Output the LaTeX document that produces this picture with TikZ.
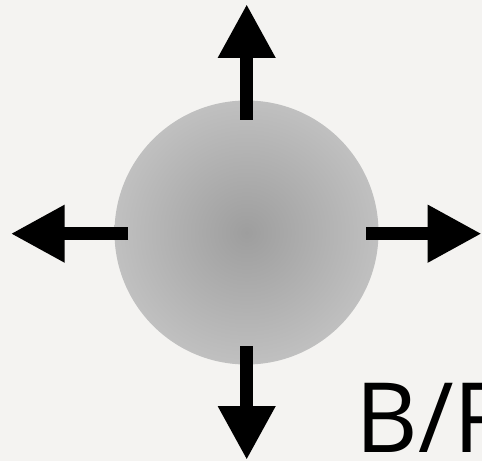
\documentclass[tikz,border=0pt]{standalone}
\usepackage{fontspec}
\setmainfont{Open Sans}
\usetikzlibrary{arrows.meta}
\definecolor{bgcol}{RGB}{244,243,241}
\definecolor{ballin}{RGB}{158,158,158}
\definecolor{ballout}{RGB}{192,192,192}
\pgfdeclareradialshading{ballshade}{\pgfpoint{0bp}{0bp}}{color(0bp)=(ballin); color(25bp)=(ballout); color(50bp)=(ballout)}
\tikzset{
  ball/.style={circle, minimum size=264pt, inner sep=0pt, shading=ballshade, draw=none},
  bigarrow/.style={line width=13.3pt, line cap=butt, -{Triangle[length=54pt,width=54pt]}},
  lbl/.style={font=\fontsize{97pt}{97pt}\selectfont, inner sep=0pt, anchor=base west}
}
\begin{document}
\begin{tikzpicture}[x=1pt,y=1pt]
\useasboundingbox (0,0) rectangle (482,461);
\fill[bgcol] (0,0) rectangle (482,461);
\node[ball] (c) at (246.5,228.5) {};
\coordinate (u0) at (246.7,341);
\coordinate (u1) at (246.7,457);
\coordinate (d0) at (246.7,115);
\coordinate (d1) at (246.7,1);
\coordinate (l0) at (128,227.3);
\coordinate (l1) at (10.7,227.3);
\coordinate (r0) at (366,227.3);
\coordinate (r1) at (481.7,227.3);
\draw[bigarrow] (u0) -- (u1);
\draw[bigarrow] (d0) -- (d1);
\draw[bigarrow] (l0) -- (l1);
\draw[bigarrow] (r0) -- (r1);
\node[lbl] (t) at (355,9) {B/R};
\end{tikzpicture}
\end{document}
